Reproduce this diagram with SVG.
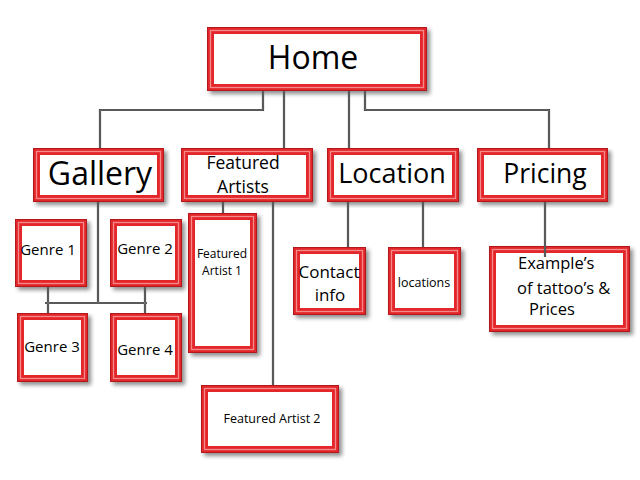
<svg xmlns="http://www.w3.org/2000/svg" width="640" height="480" viewBox="0 0 640 480">
<defs>
<filter id="sh" x="-10%" y="-10%" width="130%" height="130%">
<feGaussianBlur in="SourceAlpha" stdDeviation="2"/>
<feOffset dx="3" dy="3"/>
<feComponentTransfer><feFuncA type="linear" slope="0.45"/></feComponentTransfer>
<feMerge><feMergeNode/><feMergeNode in="SourceGraphic"/></feMerge>
</filter>
</defs>
<style>
.box{fill:#fff;stroke:#e3262b;stroke-width:7;filter:url(#sh)}
.edge{fill:none;stroke:#b3181d;stroke-width:1}
.hl{fill:none;stroke:#f58a8a;stroke-width:1.3}
.c{fill:none;stroke:#3c3c3c;stroke-width:2.2}
.ch{fill:none;stroke:#a0a0a0;stroke-width:0.6}
text{font-family:"Open Sans","Liberation Sans",sans-serif;fill:#000;text-anchor:middle}
</style>
<rect width="640" height="480" fill="#fff"/>

<g id="home">
<rect class="box" x="210.5" y="30.5" width="213" height="57"/>
<rect class="edge" x="207.5" y="27.5" width="219" height="63"/>
<rect class="hl" x="210.5" y="30.5" width="213" height="57"/>
<text x="313" y="69" font-size="32">Home</text>
</g>
<g id="gallery">
<rect class="box" x="36.5" y="151.5" width="124" height="47"/>
<rect class="edge" x="33.5" y="148.5" width="130" height="53"/>
<rect class="hl" x="36.5" y="151.5" width="124" height="47"/>
<text x="100" y="185" font-size="32">Gallery</text>
</g>
<g id="featured-artists">
<rect class="box" x="184.5" y="151.5" width="125" height="47"/>
<rect class="edge" x="181.5" y="148.5" width="131" height="53"/>
<rect class="hl" x="184.5" y="151.5" width="125" height="47"/>
<text x="243" y="169" font-size="17.5">Featured</text>
<text x="243" y="193" font-size="17.5">Artists</text>
</g>
<g id="location">
<rect class="box" x="330.5" y="151.5" width="125" height="47"/>
<rect class="edge" x="327.5" y="148.5" width="131" height="53"/>
<rect class="hl" x="330.5" y="151.5" width="125" height="47"/>
<text x="392" y="183" font-size="27">Location</text>
</g>
<g id="pricing">
<rect class="box" x="480.5" y="151.5" width="124" height="47"/>
<rect class="edge" x="477.5" y="148.5" width="130" height="53"/>
<rect class="hl" x="480.5" y="151.5" width="124" height="47"/>
<text x="545" y="183" font-size="26.5">Pricing</text>
</g>
<g id="genre1">
<rect class="box" x="18.5" y="222.5" width="65" height="61"/>
<rect class="edge" x="15.5" y="219.5" width="71" height="67"/>
<rect class="hl" x="18.5" y="222.5" width="65" height="61"/>
<text x="48" y="255" font-size="15">Genre 1</text>
</g>
<g id="genre2">
<rect class="box" x="113.5" y="222.5" width="65" height="61"/>
<rect class="edge" x="110.5" y="219.5" width="71" height="67"/>
<rect class="hl" x="113.5" y="222.5" width="65" height="61"/>
<text x="145" y="254" font-size="15">Genre 2</text>
</g>
<g id="genre3">
<rect class="box" x="20.5" y="316.5" width="64" height="62"/>
<rect class="edge" x="17.5" y="313.5" width="70" height="68"/>
<rect class="hl" x="20.5" y="316.5" width="64" height="62"/>
<text x="52" y="352" font-size="15">Genre 3</text>
</g>
<g id="genre4">
<rect class="box" x="113.5" y="316.5" width="65" height="62"/>
<rect class="edge" x="110.5" y="313.5" width="71" height="68"/>
<rect class="hl" x="113.5" y="316.5" width="65" height="62"/>
<text x="145" y="355" font-size="15">Genre 4</text>
</g>
<g id="featured-artist-1">
<rect class="box" x="191.5" y="216.5" width="62" height="133"/>
<rect class="edge" x="188.5" y="213.5" width="68" height="139"/>
<rect class="hl" x="191.5" y="216.5" width="62" height="133"/>
<text x="222" y="258" font-size="12">Featured</text>
<text x="222" y="275" font-size="12">Artist 1</text>
</g>
<g id="featured-artist-2">
<rect class="box" x="204.5" y="388.5" width="131" height="61"/>
<rect class="edge" x="201.5" y="385.5" width="137" height="67"/>
<rect class="hl" x="204.5" y="388.5" width="131" height="61"/>
<text x="272" y="423" font-size="12.5">Featured Artist 2</text>
</g>
<g id="contact-info">
<rect class="box" x="296.5" y="250.5" width="66" height="61"/>
<rect class="edge" x="293.5" y="247.5" width="72" height="67"/>
<rect class="hl" x="296.5" y="250.5" width="66" height="61"/>
<text x="329" y="278" font-size="17">Contact</text>
<text x="330" y="301" font-size="17">info</text>
</g>
<g id="locations">
<rect class="box" x="391.5" y="250.5" width="66" height="61"/>
<rect class="edge" x="388.5" y="247.5" width="72" height="67"/>
<rect class="hl" x="391.5" y="250.5" width="66" height="61"/>
<text x="424" y="287" font-size="12.5">locations</text>
</g>
<g id="examples">
<rect class="box" x="492.5" y="249.5" width="134" height="79"/>
<rect class="edge" x="489.5" y="246.5" width="140" height="85"/>
<rect class="hl" x="492.5" y="249.5" width="134" height="79"/>
<text x="518" y="269" font-size="16.5" style="text-anchor:start">Example’s</text>
<text x="517" y="294" font-size="16.5" style="text-anchor:start">of tattoo’s &amp;</text>
<text x="529" y="315" font-size="16.5" style="text-anchor:start">Prices</text>
</g>

<g id="connectors">
<path class="c" d="M263,91 V110 H100 V148 M284,91 V148 M349,91 V148 M365,91 V110 H549 V148 M98,202 V303 M45,303 H147 M48,287 V313 M145,287 V313 M223,202 V213 M273,202 V385 M348,202 V247 M423,202 V247 M545,202 V257"/>
<path class="ch" d="M263,91 V110 H100 V148 M284,91 V148 M349,91 V148 M365,91 V110 H549 V148 M98,202 V303 M45,303 H147 M48,287 V313 M145,287 V313 M223,202 V213 M273,202 V385 M348,202 V247 M423,202 V247 M545,202 V257"/>
</g>
</svg>
